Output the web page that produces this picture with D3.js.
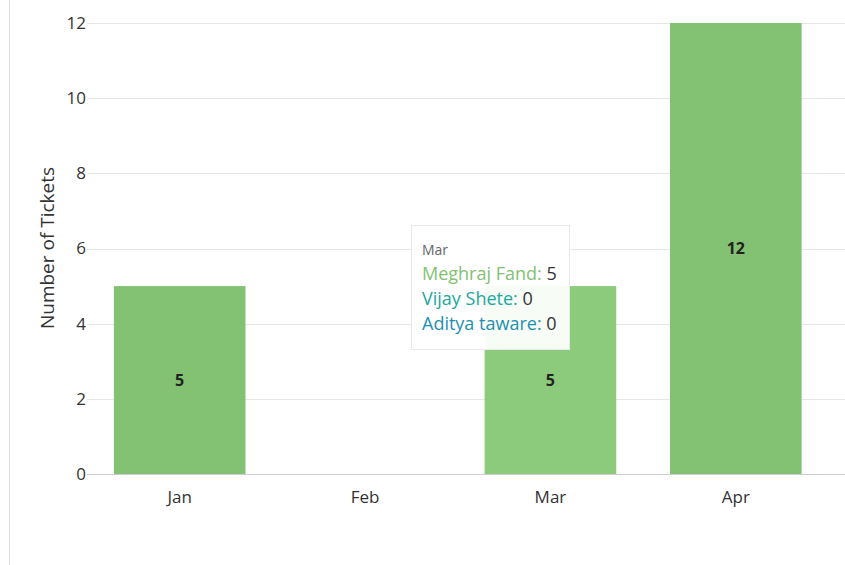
<!DOCTYPE html>
<html><head><meta charset="utf-8">
<script src="https://cdn.jsdelivr.net/npm/d3@7"></script>
<style>
html,body{margin:0;padding:0;background:#fff;overflow:hidden;}
svg{display:block;font-family:"Open Sans",sans-serif;}
</style></head>
<body>
<svg id="chart" width="845" height="565"></svg>
<script>
const months = ["Jan","Feb","Mar","Apr"];
const seriesNames = ["Meghraj Fand","Vijay Shete","Aditya taware"];
const meghraj = [5,0,5,12];
const vijay = [0,0,0,0];
const aditya = [0,0,0,0];
const yTicks = [0,2,4,6,8,10,12];
const hoveredMonth = "Mar";

const colors = ["#82c272","#20a89c","#1e90b0"];
const hoverColors = ["#8bcb7b","#2ab2a6","#289aba"];
const seriesValues = [meghraj, vijay, aditya];

const svg = d3.select("#chart");
const plotLeft = 87, plotRight = 828.5, plotTop = 23, plotBottom = 474;

const x = d3.scaleBand().domain(months).range([plotLeft, plotRight]).paddingInner(0.29).paddingOuter(0.145);
const y = d3.scaleLinear().domain([0,12]).range([plotBottom, plotTop]);

// left border line
svg.append("line").attr("x1",9.5).attr("x2",9.5).attr("y1",0).attr("y2",565)
  .attr("stroke","#e0e0e0").attr("stroke-width",1);

// gridlines
svg.append("g").selectAll("line").data(yTicks.filter(d=>d>0)).join("line")
  .attr("x1",plotLeft).attr("x2",845)
  .attr("y1",d=>Math.round(y(d))+0.5).attr("y2",d=>Math.round(y(d))+0.5)
  .attr("stroke","#e6e6e6").attr("stroke-width",1);

// y axis labels
const yAxis = d3.axisLeft(y).tickValues(yTicks).tickSize(0).tickPadding(0);
const ya = svg.append("g").attr("transform",`translate(${plotLeft-1},0)`).call(yAxis);
ya.select(".domain").remove();
ya.selectAll("text").attr("font-size","17px").attr("fill","#333").attr("font-family","'Open Sans',sans-serif");

// stacked data
const table = months.map((m,i)=>{
  const o={month:m};
  seriesNames.forEach((s,j)=>o[s]=seriesValues[j][i]);
  return o;
});
const stack = d3.stack().keys(seriesNames)(table);

stack.forEach((layer,j)=>{
  svg.append("g").selectAll("rect").data(layer.filter(d=>d[1]-d[0]>0)).join("rect")
    .attr("x",d=>x(d.data.month))
    .attr("width",x.bandwidth())
    .attr("y",d=>y(d[1]))
    .attr("height",d=>y(d[0])-y(d[1]))
    .attr("fill",d=>d.data.month===hoveredMonth?hoverColors[j]:colors[j]);
  svg.append("g").selectAll("text").data(layer.filter(d=>d[1]-d[0]>0)).join("text")
    .attr("x",d=>x(d.data.month)+x.bandwidth()/2)
    .attr("y",d=>(y(d[0])+y(d[1]))/2)
    .attr("dy","0.35em")
    .attr("text-anchor","middle")
    .attr("font-size","16px").attr("font-weight","bold").attr("fill","#222")
    .text(d=>d[1]-d[0]);
});

// x axis
const xAxis = d3.axisBottom(x).tickSize(0).tickPadding(0);
const xa = svg.append("g").attr("transform",`translate(0,${plotBottom})`).call(xAxis);
xa.select(".domain").remove();
xa.selectAll("text").attr("font-size","17px").attr("fill","#333").attr("dy","0").attr("y",29)
  .attr("font-family","'Open Sans',sans-serif");
svg.append("line").attr("x1",plotLeft).attr("x2",845).attr("y1",plotBottom+0.5).attr("y2",plotBottom+0.5)
  .attr("stroke","#cccccc").attr("stroke-width",1);

// y title
svg.append("text").attr("transform",`translate(54,248) rotate(-90)`)
  .attr("text-anchor","middle").attr("font-size","19px").attr("fill","#333")
  .text("Number of Tickets");

// tooltip
const mi = months.indexOf(hoveredMonth);
const tip = svg.append("g").attr("transform","translate(411,225)");
tip.append("rect").attr("x",0.5).attr("y",0.5).attr("width",158).attr("height",124)
  .attr("fill","rgba(255,255,255,0.93)").attr("stroke","#e8e8e8").attr("stroke-width",1);
tip.append("text").attr("x",11).attr("y",30).attr("font-size","14px").attr("fill","#666").text(hoveredMonth);
seriesNames.forEach((s,j)=>{
  const t = tip.append("text").attr("x",11).attr("y",55+j*25).attr("font-size","18px");
  t.append("tspan").attr("fill",colors[j]).text(s+": ");
  t.append("tspan").attr("fill","#333").text(seriesValues[j][mi]);
});
</script>
</body></html>
